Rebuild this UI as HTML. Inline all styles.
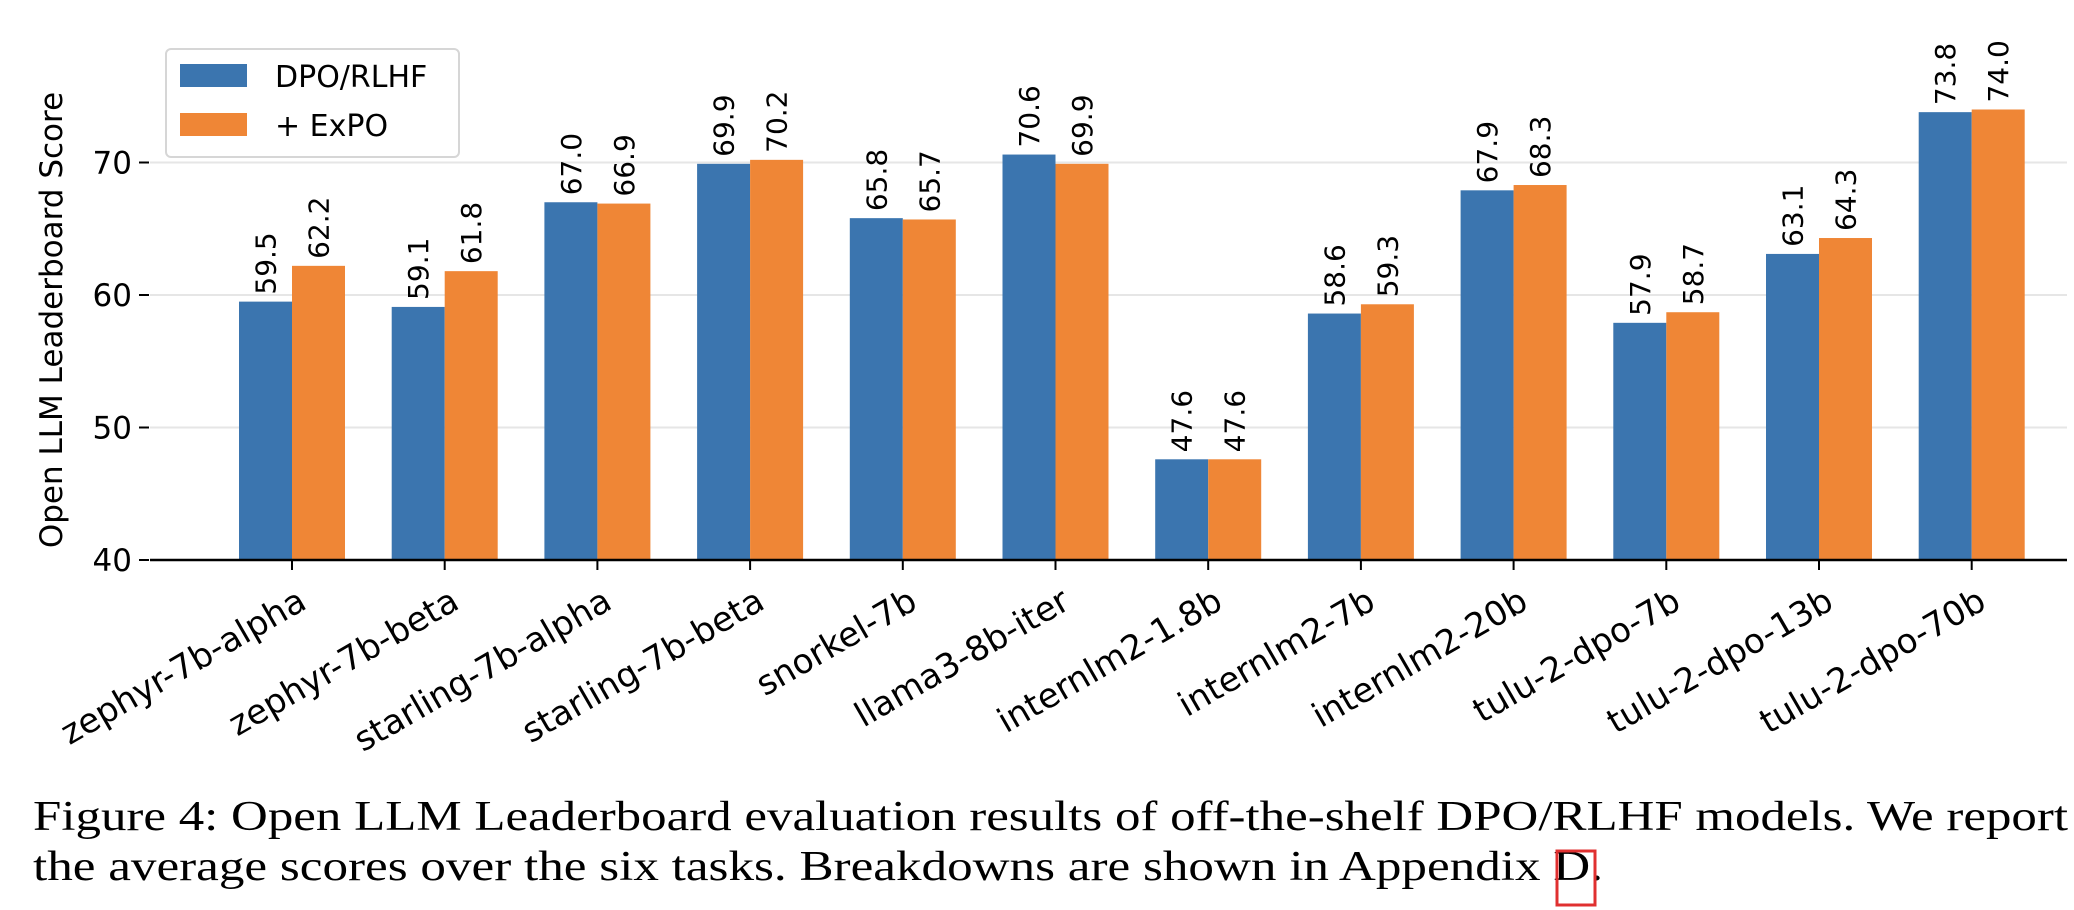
<!DOCTYPE html>
<html><head><meta charset="utf-8"><style>
html,body{margin:0;padding:0;background:#fff;}
svg{display:block;font-family:"DejaVu Sans","Liberation Sans",sans-serif;}
</style></head><body>
<svg id="chart" width="2074" height="910" viewBox="0 0 2074 910" xmlns="http://www.w3.org/2000/svg">
<g id="grid"></g>
<g id="bars"></g>
<g id="axes"></g>
<text transform="translate(62,320) rotate(-90)" text-anchor="middle" font-size="31" fill="#000">Open LLM Leaderboard Score</text>
<g>
<rect x="166" y="49" width="293" height="108" rx="5" fill="#fff" fill-opacity="0.8" stroke="#d6d6d6" stroke-width="2"/>
<rect x="180" y="64" width="67" height="23" fill="#3b75af"/>
<text x="275" y="87" font-size="30">DPO/RLHF</text>
<rect x="180" y="113" width="67" height="23" fill="#ef8636"/>
<text x="275" y="136" font-size="30">+ ExPO</text>
</g>
<g font-family="'Liberation Serif',serif" font-size="42">
<text x="33" y="830" textLength="2035" lengthAdjust="spacingAndGlyphs">Figure 4: Open LLM Leaderboard evaluation results of off-the-shelf DPO/RLHF models. We report</text>
<text x="33" y="880" textLength="1570" lengthAdjust="spacingAndGlyphs">the average scores over the six tasks. Breakdowns are shown in Appendix D.</text>
</g>
<rect x="1557" y="851" width="38" height="54" fill="none" stroke="#e03030" stroke-width="3"/>
</svg>
<script>
const categories=["zephyr-7b-alpha","zephyr-7b-beta","starling-7b-alpha","starling-7b-beta","snorkel-7b","llama3-8b-iter","internlm2-1.8b","internlm2-7b","internlm2-20b","tulu-2-dpo-7b","tulu-2-dpo-13b","tulu-2-dpo-70b"];
const dpoValues=[59.5,59.1,67.0,69.9,65.8,70.6,47.6,58.6,67.9,57.9,63.1,73.8];
const expoValues=[62.2,61.8,66.9,70.2,65.7,69.9,47.6,59.3,68.3,58.7,64.3,74.0];
const yTicks=[40,50,60,70];

const NS="http://www.w3.org/2000/svg";
const x0=150,x1=2067,y40=560,pxPer=13.25;
function yScale(v){return y40-(v-40)*pxPer;}
function xCenter(i){return 292+i*152.7;}
const bw=53;
function mk(tag,attrs,parent,text){const e=document.createElementNS(NS,tag);for(const k in attrs)e.setAttribute(k,attrs[k]);if(text!==undefined)e.textContent=text;parent.appendChild(e);return e;}
const grid=document.getElementById('grid'),bars=document.getElementById('bars'),axes=document.getElementById('axes');
yTicks.forEach(t=>{
  const y=yScale(t);
  if(t>40){const g=mk('line',{x1:x0,x2:x1,y1:y,y2:y,stroke:'#e6e6e6','stroke-width':2},grid);
  
  }
  const tk=mk('line',{x1:139,x2:149,y1:y,y2:y,stroke:'#000','stroke-width':2},axes);
  
  
  const lb=mk('text',{x:132,y:y+11,'text-anchor':'end','font-size':31},axes,String(t));
  
  
});
categories.forEach((c,i)=>{
  const cx=xCenter(i);
  [[dpoValues[i],'#3b75af',cx-bw,'dpo'],[expoValues[i],'#ef8636',cx,'expo']].forEach(([v,col,bx,s])=>{
    const y=yScale(v);
    const r=mk('rect',{x:bx,y:y,width:bw,height:y40-y,fill:col},bars);
    
    
    const tx=bx+bw/2+10,ty=y-7;
    const t=mk('text',{x:tx,y:ty,transform:`rotate(-90 ${tx} ${ty})`,'font-size':28},bars,v.toFixed(1));
    
    
  });
  const tk=mk('line',{x1:cx,x2:cx,y1:y40,y2:y40+10,stroke:'#000','stroke-width':2},axes);
  
  
  const lx=cx+4,ly=y40+26;
  const l=mk('text',{x:lx,y:ly,'text-anchor':'end','dominant-baseline':'hanging',transform:`rotate(-30 ${lx} ${ly})`,'font-size':34},axes,c);
  
  
});
const ax=mk('line',{x1:x0,x2:x1,y1:y40,y2:y40,stroke:'#000','stroke-width':2.5},axes);


</script>
</body></html>
